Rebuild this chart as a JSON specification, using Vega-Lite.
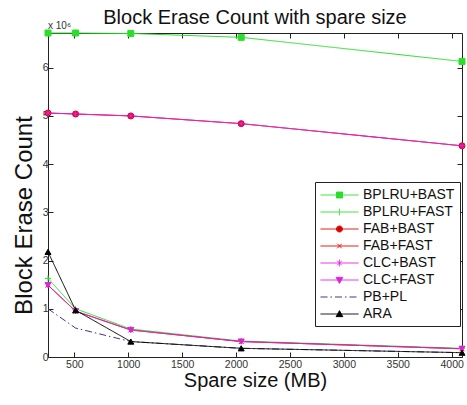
{
  "$schema": "https://vega.github.io/schema/vega-lite/v6.json",
  "width": 414,
  "height": 324,
  "autosize": {"type": "none"},
  "padding": {"left": 48, "top": 33, "right": 5, "bottom": 48},
  "background": "white",
  "title": {"text": "Block Erase Count with spare size", "fontSize": 20, "font": "Liberation Sans", "fontWeight": "normal", "color": "#111", "offset": -7, "anchor": "middle"},
  "config": {
    "view": {"stroke": "#222", "strokeWidth": 1},
    "axis": {"labelFont": "Liberation Sans", "titleFont": "Liberation Sans", "labelColor": "#333", "titleColor": "#111", "titleFontWeight": "normal", "grid": false, "domain": false, "tickColor": "#222", "labelFontSize": 10.5}
  },
  "datasets": {
    "main": [
      {"series": "BPLRU+BAST", "size": 256, "count": 6.72},
      {"series": "BPLRU+BAST", "size": 512, "count": 6.72},
      {"series": "BPLRU+BAST", "size": 1024, "count": 6.71},
      {"series": "BPLRU+BAST", "size": 2048, "count": 6.63},
      {"series": "BPLRU+BAST", "size": 4096, "count": 6.13},
      {"series": "BPLRU+FAST", "size": 256, "count": 1.63},
      {"series": "BPLRU+FAST", "size": 512, "count": 1.0},
      {"series": "BPLRU+FAST", "size": 1024, "count": 0.58},
      {"series": "BPLRU+FAST", "size": 2048, "count": 0.33},
      {"series": "BPLRU+FAST", "size": 4096, "count": 0.18},
      {"series": "FAB+BAST", "size": 256, "count": 5.06},
      {"series": "FAB+BAST", "size": 512, "count": 5.04},
      {"series": "FAB+BAST", "size": 1024, "count": 5.0},
      {"series": "FAB+BAST", "size": 2048, "count": 4.84},
      {"series": "FAB+BAST", "size": 4096, "count": 4.38},
      {"series": "FAB+FAST", "size": 256, "count": 1.49},
      {"series": "FAB+FAST", "size": 512, "count": 0.95},
      {"series": "FAB+FAST", "size": 1024, "count": 0.56},
      {"series": "FAB+FAST", "size": 2048, "count": 0.32},
      {"series": "FAB+FAST", "size": 4096, "count": 0.17},
      {"series": "CLC+BAST", "size": 256, "count": 5.06},
      {"series": "CLC+BAST", "size": 512, "count": 5.04},
      {"series": "CLC+BAST", "size": 1024, "count": 5.0},
      {"series": "CLC+BAST", "size": 2048, "count": 4.84},
      {"series": "CLC+BAST", "size": 4096, "count": 4.38},
      {"series": "CLC+FAST", "size": 256, "count": 1.49},
      {"series": "CLC+FAST", "size": 512, "count": 0.95},
      {"series": "CLC+FAST", "size": 1024, "count": 0.56},
      {"series": "CLC+FAST", "size": 2048, "count": 0.32},
      {"series": "CLC+FAST", "size": 4096, "count": 0.17},
      {"series": "PB+PL", "size": 256, "count": 1.0},
      {"series": "PB+PL", "size": 512, "count": 0.6},
      {"series": "PB+PL", "size": 1024, "count": 0.32},
      {"series": "PB+PL", "size": 2048, "count": 0.18},
      {"series": "PB+PL", "size": 4096, "count": 0.09},
      {"series": "ARA", "size": 256, "count": 2.18},
      {"series": "ARA", "size": 512, "count": 0.97},
      {"series": "ARA", "size": 1024, "count": 0.32},
      {"series": "ARA", "size": 2048, "count": 0.18},
      {"series": "ARA", "size": 4096, "count": 0.09}
    ]
  },
  "resolve": {"axis": {"x": "independent", "y": "independent"}, "legend": {"color": "independent", "shape": "independent", "fill": "independent", "strokeDash": "independent"}},
  "layer": [
    {
      "data": {"name": "main"},
      "mark": {"type": "line", "strokeWidth": 1},
      "encoding": {
        "x": {"field": "size", "type": "quantitative", "scale": {"domain": [256, 4096], "nice": false, "zero": false},
              "axis": {"orient": "bottom", "values": [500, 1000, 1500, 2000, 2500, 3000, 3500, 4000], "format": "d", "tickSize": -5, "labelPadding": 7, "title": "Spare size (MB)", "titleFontSize": 20, "titlePadding": 1}},
        "y": {"field": "count", "type": "quantitative", "scale": {"domain": [0, 6.72], "nice": false},
              "axis": {"orient": "left", "values": [0, 1, 2, 3, 4, 5, 6], "format": "d", "tickSize": -5, "labelPadding": 5, "title": "Block Erase Count", "titleFontSize": 24, "titlePadding": 6, "titleY": 182}},
        "order": {"field": "size", "type": "quantitative"},
        "color": {"field": "series", "type": "nominal",
                  "scale": {"domain": ["BPLRU+BAST", "BPLRU+FAST", "FAB+BAST", "FAB+FAST", "CLC+BAST", "CLC+FAST", "PB+PL", "ARA"],
                            "range": ["#2ade2a", "#2ade2a", "#dd0000", "#dd0000", "#e020e0", "#e020e0", "#3a3a88", "#000000"]},
                  "legend": {
                    "orient": "none", "legendX": 267, "legendY": 149, "title": null,
                    "padding": 5, "strokeColor": "#222", "fillColor": "white",
                    "symbolSize": 225, "symbolStrokeWidth": 1, "labelOffset": 27, "rowPadding": 2,
                    "labelFont": "Liberation Sans", "labelFontSize": 14, "labelColor": "#111",
                    "encode": {"symbols": {"update": {
                      "shape": {"signal": "datum.value === 'BPLRU+BAST' ? 'M-1,0H4.07M1.13,-0.4H1.93V0.4H1.13Z' : datum.value === 'BPLRU+FAST' ? 'M-1,0H4.07M1.53,-0.45V0.45' : datum.value === 'FAB+BAST' ? 'M-1,0H4.07M1.13,0A0.4,0.4,0,1,0,1.93,0A0.4,0.4,0,1,0,1.13,0Z' : datum.value === 'FAB+FAST' ? 'M-1,0H4.07M1.23,-0.3L1.83,0.3M1.23,0.3L1.83,-0.3' : datum.value === 'CLC+BAST' ? 'M-1,0H4.07M1.53,-0.45V0.45M1.23,-0.3L1.83,0.3M1.23,0.3L1.83,-0.3' : datum.value === 'CLC+FAST' ? 'M-1,0H4.07M1.08,-0.35H1.98L1.53,0.45Z' : datum.value === 'PB+PL' ? 'M-1,0H4.07' : 'M-1,0H4.07M1.08,0.35H1.98L1.53,-0.45Z'"},
                      "fill": {"signal": "datum.value === 'BPLRU+BAST' ? '#2ade2a' : datum.value === 'FAB+BAST' ? '#dd0000' : datum.value === 'CLC+FAST' ? '#e020e0' : datum.value === 'ARA' ? '#000000' : 'transparent'"},
                      "stroke": {"signal": "scale('color', datum.value)"},
                      "strokeDash": {"signal": "datum.value === 'PB+PL' ? [6, 2, 1, 2] : [1, 0]"},
                      "strokeWidth": {"value": 1},
                      "opacity": {"value": 1}
                    }}}
                  }},
        "strokeDash": {"field": "series", "type": "nominal",
                       "scale": {"domain": ["BPLRU+BAST", "BPLRU+FAST", "FAB+BAST", "FAB+FAST", "CLC+BAST", "CLC+FAST", "PB+PL", "ARA"],
                                 "range": [[1, 0], [1, 0], [1, 0], [1, 0], [1, 0], [1, 0], [7, 3, 1.5, 3], [1, 0]]},
                       "legend": null}
      }
    },
    {
      "data": {"name": "main"},
      "mark": {"type": "point", "filled": false, "strokeWidth": 1, "opacity": 1},
      "encoding": {
        "x": {"field": "size", "type": "quantitative", "axis": null},
        "y": {"field": "count", "type": "quantitative", "axis": null},
        "color": {"field": "series", "type": "nominal", "legend": null},
        "fill": {"field": "series", "type": "nominal",
                 "scale": {"domain": ["BPLRU+BAST", "BPLRU+FAST", "FAB+BAST", "FAB+FAST", "CLC+BAST", "CLC+FAST", "PB+PL", "ARA"],
                           "range": ["#2ade2a", "transparent", "#dd0000", "transparent", "transparent", "#e020e0", "transparent", "#000000"]},
                 "legend": null},
        "shape": {"field": "series", "type": "nominal",
                  "scale": {"domain": ["BPLRU+BAST", "BPLRU+FAST", "FAB+BAST", "FAB+FAST", "CLC+BAST", "CLC+FAST", "PB+PL", "ARA"],
                            "range": ["square", "M-1,0H1M0,-1V1", "circle", "M-0.8,-0.8L0.8,0.8M-0.8,0.8L0.8,-0.8", "M-1,0H1M0,-1V1M-0.7,-0.7L0.7,0.7M-0.7,0.7L0.7,-0.7", "triangle-down", "M0,0L0,0", "triangle-up"]},
                  "legend": null},
        "size": {"value": 36}
      }
    },
    {
      "data": {"values": [{"label": "x 10⁶"}]},
      "mark": {"type": "text", "align": "left", "baseline": "bottom", "dy": -2, "fontSize": 10, "font": "Liberation Sans", "color": "#333"},
      "encoding": {
        "x": {"datum": 256, "type": "quantitative",
              "axis": {"orient": "top", "values": [500, 1000, 1500, 2000, 2500, 3000, 3500, 4000], "tickSize": -5, "labels": false, "title": null}},
        "y": {"datum": 6.72, "type": "quantitative",
              "axis": {"orient": "right", "values": [0, 1, 2, 3, 4, 5, 6], "tickSize": -5, "labels": false, "title": null}},
        "text": {"field": "label"}
      }
    }
  ]
}
